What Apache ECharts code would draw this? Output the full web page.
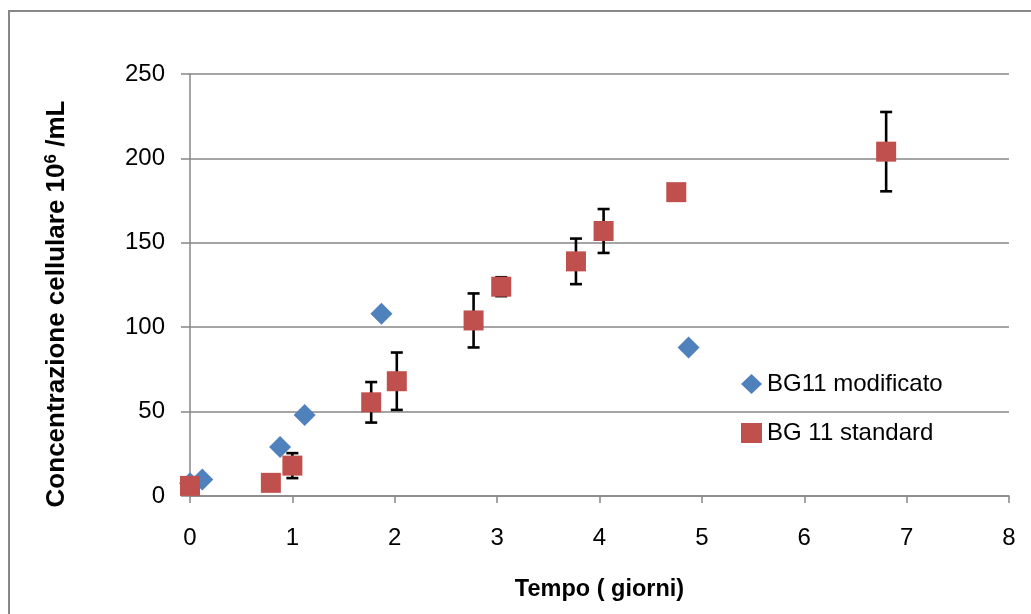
<!DOCTYPE html>
<html>
<head>
<meta charset="utf-8">
<script src="https://cdn.jsdelivr.net/npm/echarts@6/dist/echarts.min.js"></script>
<style>
html,body{margin:0;padding:0;background:#fff;}
#chart{width:1031px;height:614px;}
</style>
</head>
<body>
<div id="chart"></div>
<script>
// ---- data ----
const seriesNames = ['BG11 modificato', 'BG 11 standard'];
const modX = [0, 0.12, 0.88, 1.12, 1.87, 4.87];
const modY = [7.5, 9.8, 29, 48, 108, 88];
const stdX = [0, 0.79, 1.0, 1.77, 2.02, 2.77, 3.04, 3.77, 4.04, 4.75, 6.8];
const stdY = [6, 7.8, 18, 55.5, 68, 104, 124, 139, 157, 180, 204];
const stdErr = [0, 0, 7.4, 12, 17, 16, 5.6, 13.5, 13, 0, 23.5];
const xTicks = [0, 1, 2, 3, 4, 5, 6, 7, 8];
const yTicks = [0, 50, 100, 150, 200, 250];
const xTitle = 'Tempo ( giorni)';
const yTitleMain = 'Concentrazione cellulare 10';
const yTitleSup = '6';
const yTitleTail = ' /mL';

const FONT = '"Liberation Sans", Arial, sans-serif';
const GRAY = '#878787';

const modData = modX.map((x, i) => [x, modY[i]]);
const stdData = stdX.map((x, i) => [x, stdY[i]]);
const errData = stdX.map((x, i) => [x, stdY[i] - stdErr[i], stdY[i] + stdErr[i]]).filter((d, i) => stdErr[i] > 0);

const chart = echarts.init(document.getElementById('chart'), null, {renderer: 'canvas'});
chart.setOption({
  animation: false,
  backgroundColor: '#fff',
  grid: {left: 190, right: 22, top: 74, bottom: 118, containLabel: false},
  xAxis: {
    type: 'value', min: xTicks[0], max: xTicks[xTicks.length - 1], interval: 1,
    name: xTitle, nameLocation: 'middle', nameGap: 82,
    nameTextStyle: {fontFamily: FONT, fontSize: 23.5, fontWeight: 'bold', color: '#000'},
    axisLine: {show: true, lineStyle: {color: GRAY, width: 1.5}},
    axisTick: {show: true, inside: false, length: 7, lineStyle: {color: GRAY, width: 1.5}},
    axisLabel: {fontFamily: FONT, fontSize: 24, color: '#000', margin: 30},
    splitLine: {show: false}
  },
  yAxis: {
    type: 'value', min: yTicks[0], max: yTicks[yTicks.length - 1], interval: 50,
    axisLine: {show: true, lineStyle: {color: GRAY, width: 1.5}},
    axisTick: {show: true, inside: false, length: 9, lineStyle: {color: GRAY, width: 1.5}},
    axisLabel: {fontFamily: FONT, fontSize: 24, color: '#000', margin: 25},
    splitLine: {show: true, lineStyle: {color: GRAY, width: 1.5}}
  },
  legend: {
    orient: 'vertical', left: 741, top: 372, padding: 0,
    itemWidth: 21, itemHeight: 20, itemGap: 25, itemTextGap: 3,
    textStyle: {fontFamily: FONT, fontSize: 24, color: '#000', lineHeight: 24},
    data: [{name: seriesNames[0], icon: 'diamond'}, {name: seriesNames[1], icon: 'rect'}]
  },
  graphic: [
    {type: 'rect', silent: true, z: -10,
     shape: {x: 9, y: 11, width: 1200, height: 800},
     style: {fill: 'none', stroke: GRAY, lineWidth: 2}},
    {type: 'text', x: 57, y: 304, rotation: Math.PI / 2,
     style: {
       text: '{m|' + yTitleMain + '}{s|' + yTitleSup + '}{m|' + yTitleTail + '}',
       align: 'center', verticalAlign: 'middle',
       rich: {
         m: {fontFamily: FONT, fontSize: 26, fontWeight: 'bold', fill: '#000', lineHeight: 28},
         s: {fontFamily: FONT, fontSize: 17, fontWeight: 'bold', fill: '#000', verticalAlign: 'top', lineHeight: 28, padding: [0, 0, 8, 0]}
       }
     }}
  ],
  series: [
    {
      name: seriesNames[0], type: 'scatter', symbol: 'diamond', symbolSize: 22,
      itemStyle: {color: '#4F81BD', opacity: 1}, data: modData, z: 2
    },
    {
      name: 'err', type: 'custom', z: 3,
      renderItem: function (params, api) {
        const x = api.value(0);
        const lo = api.coord([x, api.value(1)]);
        const hi = api.coord([x, api.value(2)]);
        const cap = 6;
        const st = {stroke: '#000', lineWidth: 2.6};
        return {type: 'group', children: [
          {type: 'line', shape: {x1: lo[0], y1: lo[1], x2: hi[0], y2: hi[1]}, style: st},
          {type: 'line', shape: {x1: lo[0] - cap, y1: lo[1], x2: lo[0] + cap, y2: lo[1]}, style: st},
          {type: 'line', shape: {x1: hi[0] - cap, y1: hi[1], x2: hi[0] + cap, y2: hi[1]}, style: st}
        ]};
      },
      encode: {x: 0, y: [1, 2]},
      data: errData, silent: true
    },
    {
      name: seriesNames[1], type: 'scatter', symbol: 'rect', symbolSize: 20,
      itemStyle: {color: '#C0504D', opacity: 1}, data: stdData, z: 4
    }
  ]
});
</script>
</body>
</html>
